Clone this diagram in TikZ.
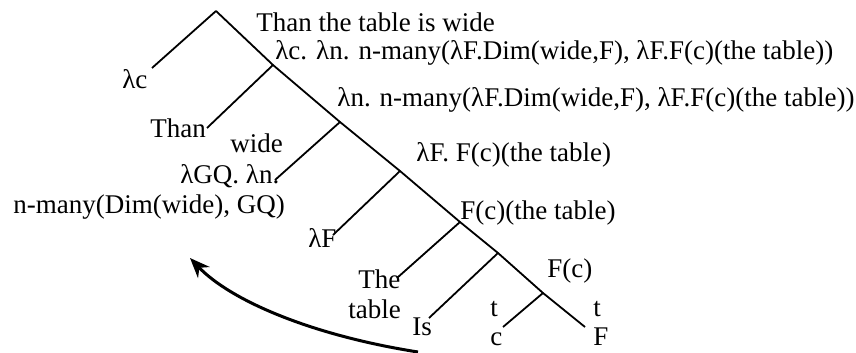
\documentclass[tikz,border=0pt]{standalone}
\usepackage{fontspec}
\setmainfont{Liberation Serif}
\usetikzlibrary{arrows.meta}
\tikzset{
    branch/.style={line width=0.9pt},
    lbl/.style={anchor=base west, inner sep=0pt, font=\fontsize{13.5}{15}\selectfont},
    move/.style={line width=1.5pt, -{Stealth[length=10pt, width=8pt]}}
}
\begin{document}
\begin{tikzpicture}[x=0.5pt, y=-0.5pt]
    \useasboundingbox (0,0) rectangle (856,353);
    % tree points
    \coordinate (root) at (216,11);
    \coordinate (n1) at (273,65);
    \coordinate (n2) at (340,122);
    \coordinate (n3) at (400,171);
    \coordinate (n4) at (460,222);
    \coordinate (n5) at (498,253);
    \coordinate (n6) at (543,293);
    \coordinate (leafF) at (585,327);
    \coordinate (a1) at (152,68);
    \coordinate (a2) at (207,128);
    \coordinate (a3) at (275,180);
    \coordinate (a4) at (333,235);
    \coordinate (a5) at (397,278);
    \coordinate (a6) at (429,318);
    \coordinate (a7) at (503,327);

    \draw[branch] (root) -- (n1) -- (n2) -- (n3) -- (n4) -- (n5) -- (n6) -- (leafF);
    \draw[branch] (root) -- (a1);
    \draw[branch] (n1) -- (a2);
    \draw[branch] (n2) -- (a3);
    \draw[branch] (n3) -- (a4);
    \draw[branch] (n4) -- (a5);
    \draw[branch] (n5) -- (a6);
    \draw[branch] (n6) -- (a7);

    % labels
    \node[lbl] (top) at (256,32) {Than the table is wide};
    \node[lbl] (l1) at (275,60) {λc. λn. n-many(λF.Dim(wide,F), λF.F(c)(the table))};
    \node[lbl] (l2) at (337,106) {λn. n-many(λF.Dim(wide,F), λF.F(c)(the table))};
    \node[lbl] (l3) at (416,162) {λF. F(c)(the table)};
    \node[lbl] (l4) at (460,219) {F(c)(the table)};
    \node[lbl] (l5) at (547,277) {F(c)};
    \node[lbl] (lc) at (122,89) {λc};
    \node[lbl] (than) at (150,137) {Than};
    \node[lbl] (wide) at (230,152) {wide};
    \node[lbl] (gq) at (180,183) {λGQ. λn.};
    \node[lbl] (nmany) at (13,213) {n-many(Dim(wide), GQ)};
    \node[lbl] (lf) at (308,247) {λF};
    \node[lbl] (the) at (358,288) {The};
    \node[lbl] (table) at (348,318) {table};
    \node[lbl] (is) at (412,335) {Is};
    \node[lbl] (tc) at (490,316) {t};
    \node[lbl] (c) at (490,345) {c};
    \node[lbl] (tf) at (593,316) {t};
    \node[lbl] (f) at (593,345) {F};

    % movement arrow
    \coordinate (mstart) at (418,352);
    \coordinate (mend) at (190,258);
    \draw[move] (mstart) .. controls (310,335) and (230,300) .. (mend);
\end{tikzpicture}
\end{document}
